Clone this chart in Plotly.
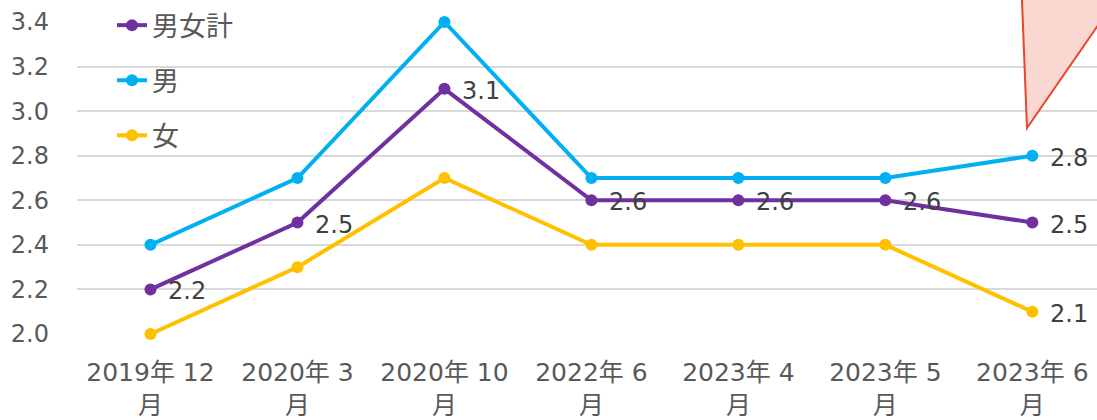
import plotly.graph_objects as go

# Survey periods (category axis) and rates for each group
periods = ["2019年 12<br>月", "2020年 3<br>月", "2020年 10<br>月", "2022年 6<br>月",
           "2023年 4<br>月", "2023年 5<br>月", "2023年 6<br>月"]
total = [2.2, 2.5, 3.1, 2.6, 2.6, 2.6, 2.5]
male = [2.4, 2.7, 3.4, 2.7, 2.7, 2.7, 2.8]
female = [2.0, 2.3, 2.7, 2.4, 2.4, 2.4, 2.1]

# Which points carry a value label
total_labeled = [True] * len(total)
male_labeled = [False] * (len(male) - 1) + [True]
female_labeled = [False] * (len(female) - 1) + [True]

FONT = "DejaVu Sans, Noto Sans CJK JP, sans-serif"
W, H = 1097, 420
ML, MR, MT, MB = 77, 0, 22, 86

fig = go.Figure()

def add_series(name, values, labeled, color, group):
    fig.add_trace(go.Scatter(
        x=periods, y=values, name=name, legendgroup=group,
        mode="lines+markers",
        line=dict(color=color, width=4),
        marker=dict(color=color, size=12),
        cliponaxis=False,
    ))
    for p, v, show in zip(periods, values, labeled):
        if show:
            fig.add_annotation(
                x=p, y=v, text=f"{v:.1f}", showarrow=False,
                xanchor="left", yanchor="middle", xshift=16, yshift=-2,
                font=dict(family=FONT, size=24, color="#404040"),
            )

add_series("男女計", total, total_labeled, "#7030A0", "g1")
add_series("男", male, male_labeled, "#00B0F0", "g2")
add_series("女", female, female_labeled, "#FFC000", "g3")

# Callout pointer reaching down toward the latest reading
pw, ph = W - ML - MR, H - MT - MB
def px(x):
    return (x - ML) / pw
def py(y):
    return (H - MB - y) / ph
fig.add_shape(
    type="path", xref="paper", yref="paper",
    path=(f"M{px(1020)},{py(-50)} L{px(1027)},{py(128)} "
          f"L{px(1150)},{py(-50)} Z"),
    fillcolor="#FAD7D0", line=dict(color="#E8472A", width=2), layer="above",
)

fig.update_layout(
    width=W, height=H,
    margin=dict(l=ML, r=MR, t=MT, b=MB),
    paper_bgcolor="white", plot_bgcolor="white",
    font=dict(family=FONT, size=24, color="#595959"),
    showlegend=True,
    legend=dict(
        x=0.0343, y=1.067, xanchor="left", yanchor="top",
        bgcolor="rgba(0,0,0,0)", traceorder="grouped", tracegroupgap=17,
        font=dict(family=FONT, size=27, color="#595959"),
    ),
    xaxis=dict(
        type="category", range=[-0.5, 6.44], showgrid=False, zeroline=False,
        showline=False, ticks="", ticklabelstandoff=21,
        tickfont=dict(family=FONT, size=25, color="#595959"),
    ),
    yaxis=dict(
        range=[2.0, 3.4], dtick=0.2, tickformat=".1f",
        showgrid=True, gridcolor="#D9D9D9", gridwidth=1.5,
        zeroline=False, showline=False, ticks="", ticklabelstandoff=27,
        tickfont=dict(family=FONT, size=24, color="#595959"),
    ),
)

fig.write_html("out.html")
